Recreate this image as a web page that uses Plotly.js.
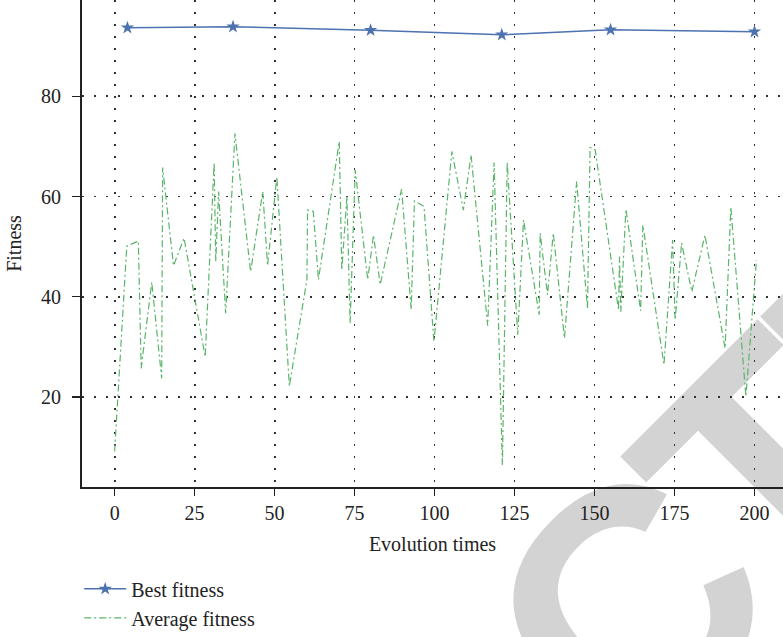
<!DOCTYPE html>
<html>
<head>
<meta charset="utf-8">
<script src="https://cdn.plot.ly/plotly-3.0.1.min.js"></script>
<style>html,body{margin:0;padding:0;background:#fff;}#chart{width:783px;height:637px;}</style>
</head>
<body>
<div id="chart"></div>
<script>
// Best fitness series
const bestX = [4, 37, 80, 121, 155, 200];
const bestY = [93.7, 93.9, 93.2, 92.3, 93.3, 92.9];

// Average fitness series
const avgX = [0, 3.8, 7.4, 8.3, 11.6, 14.7, 15.0, 18.4, 21.7, 28.3, 31.1, 31.6, 32.5, 34.7, 37.6,
  42.5, 46.3, 47.8, 50.7, 54.6, 60.1, 60.3, 62.1, 63.7, 70.2, 71.0, 72.6, 73.6, 75.2, 79.1,
  80.9, 83.0, 89.7, 92.7, 93.7, 96.7, 99.8, 105.4, 109.0, 111.4, 116.6, 118.6, 121.2, 122.7,
  126.0, 127.8, 132.7, 133.0, 135.3, 137.1, 140.6, 144.4, 147.8, 148.6, 150.2, 157.5, 157.8,
  158.2, 159.8, 164.4, 165.1, 171.7, 174.4, 175.2, 177.2, 180.4, 184.5, 190.8, 192.6, 197.3, 200.6];
const avgY = [9.1, 50.1, 51.1, 25.7, 42.9, 23.7, 65.8, 46.2, 51.7, 28.0, 66.8, 47.0, 61.0, 36.7, 72.6,
  45.0, 61.0, 46.2, 63.9, 22.1, 43.4, 57.3, 57.0, 43.4, 71.0, 45.3, 60.1, 34.7, 65.3, 43.4,
  52.3, 42.4, 61.5, 37.4, 59.1, 58.0, 31.0, 69.0, 57.3, 68.3, 34.2, 66.8, 6.4, 66.8,
  32.4, 55.3, 36.4, 52.7, 40.4, 52.7, 31.7, 63.0, 37.6, 69.8, 69.3, 37.4, 48.0,
  37.0, 57.5, 37.2, 54.3, 26.4, 51.3, 35.4, 50.7, 41.0, 52.3, 29.7, 57.9, 20.1, 47.3];

const xTicks = [0, 25, 50, 75, 100, 125, 150, 175, 200];
const yTicks = [20, 40, 60, 80];
const seriesNames = ["Best fitness", "Average fitness"];

const FONT = "Liberation Serif, Times New Roman, serif";
const WM_SIZE = 330;

const traces = [
  {
    x: bestX, y: bestY, name: seriesNames[0], type: "scatter", mode: "lines+markers",
    line: {color: "#4C72B0", width: 1.5},
    marker: {symbol: "star", size: 10, color: "#4C72B0"}
  },
  {
    x: avgX, y: avgY, name: seriesNames[1], type: "scatter", mode: "lines",
    line: {color: "#5AB56A", width: 1.2, dash: "7px,3px,2px,3px"}
  }
];

const axisCommon = {
  showline: true, linecolor: "#222", linewidth: 2,
  ticks: "outside", ticklen: 7, tickwidth: 1.5, tickcolor: "#222",
  showgrid: true, gridcolor: "#333", gridwidth: 1.8, griddash: "2px,10px",
  zeroline: false,
  tickfont: {family: FONT, size: 20, color: "#222"}
};

const layout = {
  width: 783, height: 637,
  margin: {l: 82, r: 0, t: 0, b: 150, pad: 0, autoexpand: false},
  paper_bgcolor: "#fff", plot_bgcolor: "rgba(0,0,0,0)",
  font: {family: FONT, size: 20, color: "#222"},
  xaxis: Object.assign({}, axisCommon, {
    range: [-10.2, 208.9], tickvals: xTicks, ticktext: xTicks.map(String),
    title: {text: "Evolution times", font: {family: FONT, size: 20, color: "#222"}, standoff: 14}
  }),
  yaxis: Object.assign({}, axisCommon, {
    range: [2, 99.24], tickvals: yTicks, ticktext: yTicks.map(String), ticklen: 8,
    ticklabelstandoff: 7,
    title: {text: "Fitness", font: {family: FONT, size: 20, color: "#222"}, standoff: 14}
  }),
  showlegend: true,
  legend: {
    x: -0.004, y: -0.169, xanchor: "left", yanchor: "top",
    bgcolor: "rgba(0,0,0,0)", borderwidth: 0,
    font: {family: FONT, size: 20, color: "#222"},
    itemwidth: 42, tracegroupgap: 0
  },
  annotations: [{
    text: "<b>RETRACTED</b>", xref: "paper", yref: "paper",
    x: 0.54, y: -0.55, xanchor: "center", yanchor: "middle",
    textangle: -45, showarrow: false,
    font: {family: "Liberation Sans, Arial, sans-serif", size: WM_SIZE, color: "#d3d3d3"}
  }]
};

Plotly.newPlot("chart", traces, layout, {displayModeBar: false, staticPlot: true}).then(gd => {
  const ann = gd.querySelector(".annotation");
  const below = gd.querySelector(".layer-below");
  if (!ann || !below) return;
  below.appendChild(ann);
  const g = ann.querySelector(".annotation-text-g");
  const t = ann.querySelector("text");
  if (!g || !t) return;
  t.style.letterSpacing = "-22px";
  try {
    const p = t.getStartPositionOfChar(6);   // the second "T"
    const rel = g.getCTM().inverse().multiply(t.getCTM());
    const local = new DOMPoint(p.x + 0.02 * WM_SIZE, p.y - 0.716 * WM_SIZE).matrixTransform(rel);
    // place the top-left corner of that T's crossbar where the reference shows it
    g.setAttribute("transform",
      "translate(615.7,448) rotate(-45) translate(" + (-local.x) + "," + (-local.y) + ")");
  } catch (e) {}
});
</script>
</body>
</html>
